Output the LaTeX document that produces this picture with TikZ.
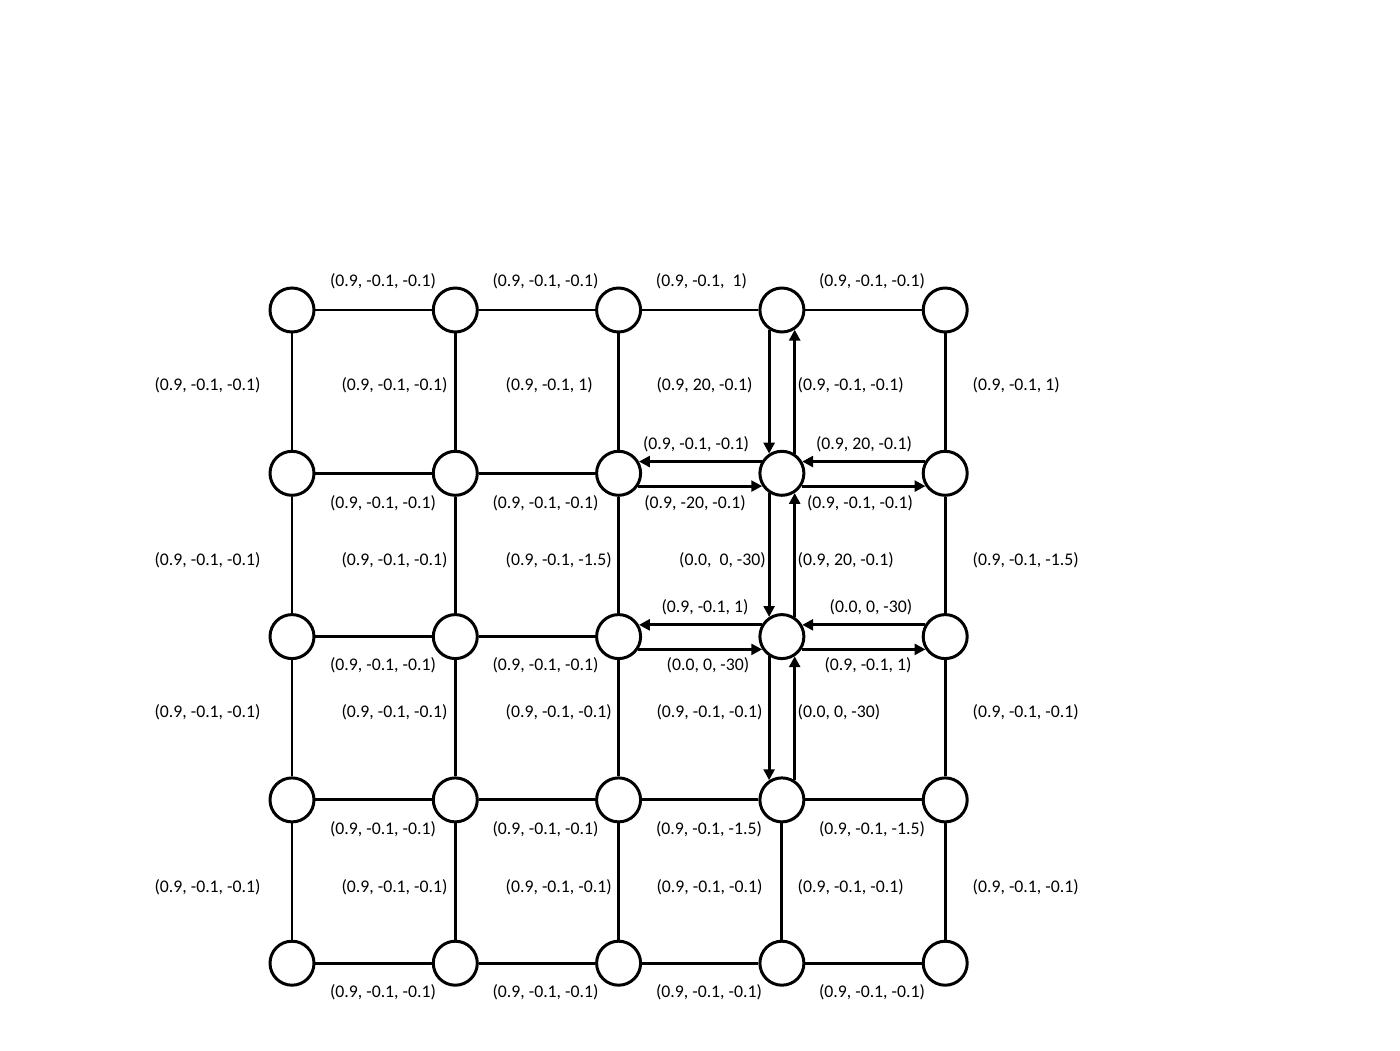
\documentclass[tikz,border=0pt]{standalone}
\usepackage{fontspec}
\setmainfont{Carlito}
\usetikzlibrary{arrows.meta,positioning}

\begin{document}
\begin{tikzpicture}[
node distance=1.633cm,
state/.style={draw, circle, line width=0.85pt, minimum size=0.44cm, inner sep=0pt},
lbl/.style={font=\fontsize{5.05}{6}\selectfont, inner sep=0pt},
line/.style={line width=0.85pt},
arrow/.style={-{Triangle[length=3.1pt,width=3.1pt]}, line width=0.85pt}
]
\useasboundingbox (0,0) rectangle (14,10.5);

% states
\node[state] (s11) at (2.92,7.40) {};
\node[state] (s12) [right of=s11] {};
\node[state] (s13) [right of=s12] {};
\node[state] (s14) [right of=s13] {};
\node[state] (s15) [right of=s14] {};

\node[state] (s21) [below of=s11] {};
\node[state] (s22) [right of=s21] {};
\node[state] (s23) [right of=s22] {};
\node[state] (s24) [right of=s23] {};
\node[state] (s25) [right of=s24] {};

\node[state] (s31) [below of=s21] {};
\node[state] (s32) [right of=s31] {};
\node[state] (s33) [right of=s32] {};
\node[state] (s34) [right of=s33] {};
\node[state] (s35) [right of=s34] {};

\node[state] (s41) [below of=s31] {};
\node[state] (s42) [right of=s41] {};
\node[state] (s43) [right of=s42] {};
\node[state] (s44) [right of=s43] {};
\node[state] (s45) [right of=s44] {};

\node[state] (s51) [below of=s41] {};
\node[state] (s52) [right of=s51] {};
\node[state] (s53) [right of=s52] {};
\node[state] (s54) [right of=s53] {};
\node[state] (s55) [right of=s54] {};

% plain edges
\draw[line] (s11) -- (s12) -- (s13) -- (s14) -- (s15);
\draw[line] (s21) -- (s22) -- (s23);
\draw[line] (s31) -- (s32) -- (s33);
\draw[line] (s41) -- (s42) -- (s43) -- (s44) -- (s45);
\draw[line] (s51) -- (s52) -- (s53) -- (s54) -- (s55);
\draw[line] (s11) -- (s21) -- (s31) -- (s41) -- (s51);
\draw[line] (s12) -- (s22) -- (s32) -- (s42) -- (s52);
\draw[line] (s13) -- (s23) -- (s33) -- (s43) -- (s53);
\draw[line] (s15) -- (s25) -- (s35) -- (s45) -- (s55);
\draw[line] (s44) -- (s54);

% arrows
\draw[arrow] (s14.237) -- (s24.123);
\draw[arrow] (s24.57) -- (s14.303);
\draw[arrow] (s24.237) -- (s34.123);
\draw[arrow] (s34.57) -- (s24.303);
\draw[arrow] (s34.237) -- (s44.123);
\draw[arrow] (s44.57) -- (s34.303);

\draw[arrow] (s24.150) -- (s23.30);
\draw[arrow] (s23.327) -- (s24.213);
\draw[arrow] (s25.150) -- (s24.30);
\draw[arrow] (s24.327) -- (s25.213);
\draw[arrow] (s34.150) -- (s33.30);
\draw[arrow] (s33.327) -- (s34.213);
\draw[arrow] (s35.150) -- (s34.30);
\draw[arrow] (s34.327) -- (s35.213);

% horizontal labels
\node[lbl] (h11) at (3.83,7.69) {(0.9, -0.1, -0.1)};
\node[lbl] (h12) at (5.455,7.69) {(0.9, -0.1, -0.1)};
\node[lbl] (h13) at (7.015,7.69) {(0.9, -0.1, \ 1)};
\node[lbl] (h14) at (8.72,7.69) {(0.9, -0.1, -0.1)};

\node[lbl] (h21) at (3.83,5.47) {(0.9, -0.1, -0.1)};
\node[lbl] (h22) at (5.455,5.47) {(0.9, -0.1, -0.1)};
\node[lbl] (h23a) at (6.96,6.06) {(0.9, -0.1, -0.1)};
\node[lbl] (h23b) at (6.95,5.47) {(0.9, -20, -0.1)};
\node[lbl] (h24a) at (8.64,6.06) {(0.9, 20, -0.1)};
\node[lbl] (h24b) at (8.60,5.47) {(0.9, -0.1, -0.1)};

\node[lbl] (h31) at (3.83,3.85) {(0.9, -0.1, -0.1)};
\node[lbl] (h32) at (5.455,3.85) {(0.9, -0.1, -0.1)};
\node[lbl] (h33a) at (7.05,4.43) {(0.9, -0.1, 1)};
\node[lbl] (h33b) at (7.08,3.85) {(0.0, 0, -30)};
\node[lbl] (h34a) at (8.71,4.43) {(0.0, 0, -30)};
\node[lbl] (h34b) at (8.68,3.85) {(0.9, -0.1, 1)};

\node[lbl] (h41) at (3.83,2.21) {(0.9, -0.1, -0.1)};
\node[lbl] (h42) at (5.455,2.21) {(0.9, -0.1, -0.1)};
\node[lbl] (h43) at (7.09,2.21) {(0.9, -0.1, -1.5)};
\node[lbl] (h44) at (8.72,2.21) {(0.9, -0.1, -1.5)};

\node[lbl] (h51) at (3.83,0.58) {(0.9, -0.1, -0.1)};
\node[lbl] (h52) at (5.455,0.58) {(0.9, -0.1, -0.1)};
\node[lbl] (h53) at (7.09,0.58) {(0.9, -0.1, -0.1)};
\node[lbl] (h54) at (8.72,0.58) {(0.9, -0.1, -0.1)};

% vertical labels
\node[lbl] (v11) at (2.075,6.65) {(0.9, -0.1, -0.1)};
\node[lbl] (v12) at (3.945,6.65) {(0.9, -0.1, -0.1)};
\node[lbl, anchor=west] (v13) at (5.05,6.65) {(0.9, -0.1, 1)};
\node[lbl] (v14a) at (7.045,6.65) {(0.9, 20, -0.1)};
\node[lbl, anchor=west] (v14b) at (7.97,6.65) {(0.9, -0.1, -0.1)};
\node[lbl, anchor=west] (v15) at (9.72,6.65) {(0.9, -0.1, 1)};

\node[lbl] (v21) at (2.075,4.90) {(0.9, -0.1, -0.1)};
\node[lbl] (v22) at (3.945,4.90) {(0.9, -0.1, -0.1)};
\node[lbl, anchor=west] (v23) at (5.05,4.90) {(0.9, -0.1, -1.5)};
\node[lbl] (v24a) at (7.225,4.90) {(0.0, \ 0, -30)};
\node[lbl, anchor=west] (v24b) at (7.97,4.90) {(0.9, 20, -0.1)};
\node[lbl, anchor=west] (v25) at (9.72,4.90) {(0.9, -0.1, -1.5)};

\node[lbl] (v31) at (2.075,3.38) {(0.9, -0.1, -0.1)};
\node[lbl] (v32) at (3.945,3.38) {(0.9, -0.1, -0.1)};
\node[lbl, anchor=west] (v33) at (5.05,3.38) {(0.9, -0.1, -0.1)};
\node[lbl] (v34a) at (7.095,3.38) {(0.9, -0.1, -0.1)};
\node[lbl, anchor=west] (v34b) at (7.97,3.38) {(0.0, 0, -30)};
\node[lbl, anchor=west] (v35) at (9.72,3.38) {(0.9, -0.1, -0.1)};

\node[lbl] (v41) at (2.075,1.63) {(0.9, -0.1, -0.1)};
\node[lbl] (v42) at (3.945,1.63) {(0.9, -0.1, -0.1)};
\node[lbl, anchor=west] (v43) at (5.05,1.63) {(0.9, -0.1, -0.1)};
\node[lbl] (v44a) at (7.095,1.63) {(0.9, -0.1, -0.1)};
\node[lbl, anchor=west] (v44b) at (7.97,1.63) {(0.9, -0.1, -0.1)};
\node[lbl, anchor=west] (v45) at (9.72,1.63) {(0.9, -0.1, -0.1)};

\end{tikzpicture}
\end{document}
